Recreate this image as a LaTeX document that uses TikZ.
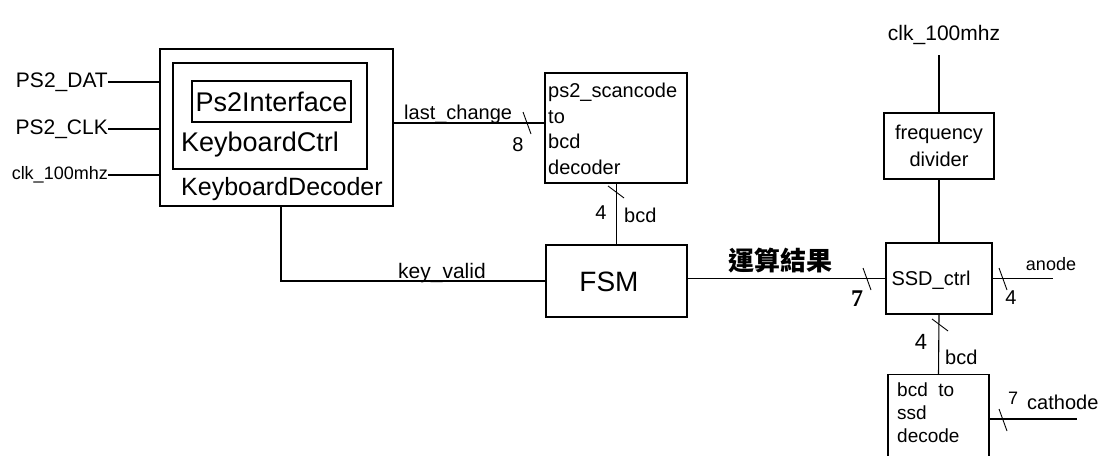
\documentclass[tikz,border=0pt]{standalone}
\usepackage{fontspec}
\setmainfont{Liberation Sans}
\newfontfamily\cjkfont{Noto Sans CJK TC}
\newfontfamily\numfont{Liberation Serif}
\usetikzlibrary{calc}
\tikzset{
  blk/.style 2 args={draw, line width=1.1pt, minimum width=#1, minimum height=#2, inner sep=0pt},
  txt/.style={inner sep=0pt, font=\fontsize{#1}{#1}\selectfont},
  txt/.default=20,
  wire/.style={line width=1.1pt},
  hbus/.pic={\draw[line width=0.9pt] (-4,-11) -- (4,11);},
  vbus/.pic={\draw[line width=0.9pt] (-8,-6) -- (8,6);}
}

\begin{document}
\begin{tikzpicture}[x=1pt, y=-1pt]
  \useasboundingbox (0,0) rectangle (1099,455);

  % keyboard decoder with the blocks nested in it
  \node[blk={233}{157}] (kbdec) at (276.5,127.5) {};
  \node[blk={194}{106}] (kbctrl) at (270,116) {};
  \node[blk={159}{41}] (ps2if) at (271.5,101.5) {};
  \node[txt=27] (ps2iftxt) at (ps2if) {Ps2Interface};
  \node[txt=27, anchor=west] (kbctrltxt) at (181,145) {KeyboardCtrl};
  \node[txt=25, anchor=west] (kbdectxt) at (181,189) {KeyboardDecoder};

  % inputs
  \node[txt=21, anchor=east] (dat) at (108,82) {PS2\_DAT};
  \node[txt=21, anchor=east] (clk) at (108,129) {PS2\_CLK};
  \node[txt=18, anchor=east] (sysclk) at (108,175) {clk\_100mhz};
  \draw[wire] (dat.east) -- (dat.east -| kbdec.west);
  \draw[wire] (clk.east) -- (clk.east -| kbdec.west);
  \draw[wire] (sysclk.east) -- (sysclk.east -| kbdec.west);

  % scancode to bcd
  \node[blk={142}{110}] (scan) at (616,128) {};
  \node[txt, anchor=north west, align=left, font=\fontsize{20}{25.5}\selectfont] (scantxt) at (548,83) {ps2\_scancode\\to\\bcd\\decoder};
  \coordinate (lc) at (0,123);
  \draw[wire] (kbdec.east |- lc) -- (scan.west |- lc);
  \node[txt=20, anchor=base west] (lctxt) at (404,119) {last\_change};
  \pic at (527,123) {hbus};
  \node[txt=20] (lcw) at (518,145) {8};

  % FSM
  \node[blk={141}{72}] (fsm) at (616.5,281) {};
  \node[txt=28] (fsmtxt) at (609,282) {FSM};
  \draw[wire] (fsm.north |- scan.south) -- (fsm.north);
  \pic at (616,192) {vbus};
  \node[txt=20] (bw1) at (601,213) {4};
  \node[txt=20, anchor=west] (bcd1) at (624,215) {bcd};
  \coordinate (kv) at (281,0);
  \draw[wire] (kbdec.south -| kv) |- (fsm.west);
  \node[txt=21, anchor=base west] (kvtxt) at (398,278) {key\_valid};

  % display side
  \node[blk={106}{71}] (ssd) at (939,278.5) {};
  \node[txt=20] (ssdtxt) at (931,280) {SSD\_ctrl};
  \draw[wire] (ssd.west -| fsm.east) -- (ssd.west);
  \node[font=\cjkfont\bfseries\fontsize{26}{26}\selectfont, inner sep=0pt] (restxt) at (780,261) {運算結果};
  \pic at (867,279) {hbus};
  \node[font=\numfont\bfseries\fontsize{24}{24}\selectfont, inner sep=0pt] (resw) at (857,299) {7};

  \node[blk={110}{66}] (freq) at (939,146) {};
  \node[txt, align=center, font=\fontsize{20}{27}\selectfont] (freqtxt) at (freq) {frequency\\divider};
  \node[txt=21] (clktop) at (944,35) {clk\_100mhz};
  \coordinate (ct) at (0,55);
  \draw[wire] (freq.north |- ct) -- (freq.north);
  \draw[wire] (freq.south) -- (ssd.north);

  \coordinate (an) at (1053,0);
  \draw[wire] (ssd.east) -- (ssd.east -| an);
  \node[txt=18] (antxt) at (1051,264) {anode};
  \pic at (1003,279) {hbus};
  \node[txt=20] (anw) at (1011,298) {4};

  % bcd to ssd, cut off by the lower edge
  \begin{scope}
    \clip (0,0) rectangle (1099,455);
    \node[blk={101}{100}, anchor=north] (bcdssd) at (938.5,374) {};
  \end{scope}
  \node[txt, anchor=north west, align=left, font=\fontsize{19}{23}\selectfont] (bcdssdtxt) at (897,383) {bcd\ \ to\\ssd\\decode};
  \draw[wire] (ssd.south) -- (bcdssd.north);
  \pic at (940,325) {vbus};
  \node[txt=22] (bw2) at (921,342) {4};
  \node[txt=20, anchor=west] (bcd2) at (945,357) {bcd};

  \coordinate (ca) at (1077,419);
  \draw[wire] (bcdssd.east |- ca) -- (ca);
  \pic at (1003,420) {hbus};
  \node[txt=18] (caw) at (1013,398) {7};
  \node[txt=20, anchor=west] (catxt) at (1027,402) {cathode};

\end{tikzpicture}
\end{document}
